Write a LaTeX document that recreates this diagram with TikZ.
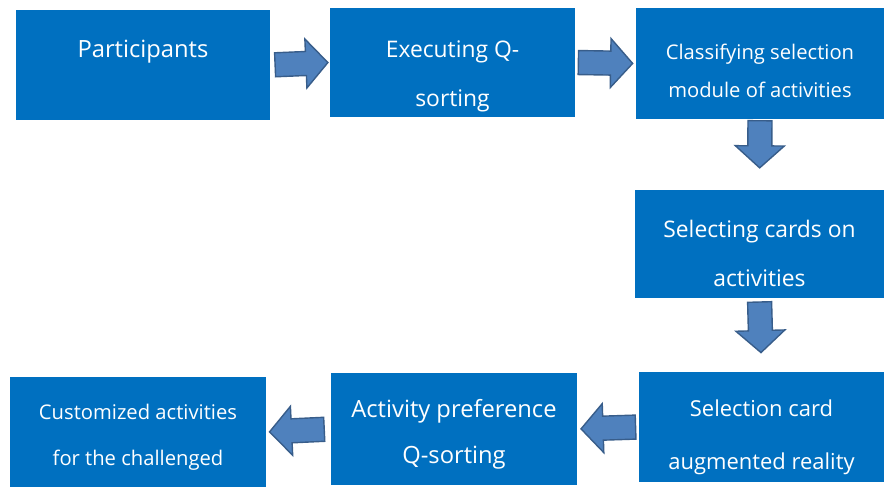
\documentclass[tikz,border=0pt]{standalone}
\usepackage{fontspec}
\setmainfont{Open Sans}
\usepackage{tikz}
\usetikzlibrary{calc,positioning}
\definecolor{BoxBlue}{RGB}{0, 112, 192}
\definecolor{ArrBlue}{RGB}{79, 129, 189}
\definecolor{ArrEdge}{RGB}{56, 93, 138}
\newcommand{\drop}[1]{\rule{0pt}{#1}}

\begin{document}
\begin{tikzpicture}[
  box/.style={fill=BoxBlue, text=white, align=center, inner sep=2pt,
              minimum height=2.2cm, minimum width=4.92cm},
  fat/.style={draw=ArrEdge, fill=ArrBlue, line width=0.8pt, line join=miter,
    to path={let \p1=(\tikztostart), \p2=(\tikztotarget), \p3=($(\p2)!0.44cm!(\p1)$) in
      ($(\p1)!0.24cm!90:(\p2)$) -- ($(\p3)!0.24cm!-90:(\p1)$) -- ($(\p3)!0.49cm!-90:(\p1)$)
      -- (\p2) -- ($(\p3)!0.49cm!90:(\p1)$) -- ($(\p3)!0.24cm!90:(\p1)$)
      -- ($(\p1)!0.24cm!-90:(\p2)$) -- cycle}}]
  \useasboundingbox (0,0) rectangle (17.7,9.76);
  % top row
  \node[box, minimum width=5.08cm, font=\fontsize{13.5}{18}\selectfont] (par) at (2.86,8.46) {Participants\\\mbox{}};
  \node[box, minimum width=4.9cm, minimum height=2.18cm, font=\fontsize{13}{28}\selectfont] (exe) at (9.05,8.51) {\drop{25pt}Executing Q-\\sorting};
  \node[box, minimum width=4.96cm, minimum height=2.22cm, font=\fontsize{11.5}{22}\selectfont] (cls) at (15.2,8.49) {\drop{17pt}Classifying selection\\module of activities};
  % right column
  \node[box, minimum width=4.98cm, minimum height=2.16cm, font=\fontsize{13}{28}\selectfont] (sel) at (15.19,4.88) {\drop{21pt}Selecting cards on\\activities};
  \node[box, minimum width=4.9cm, font=\fontsize{12.5}{30}\selectfont] (aug) at (15.23,1.22) {\drop{21pt}Selection card\\augmented reality};
  % bottom row
  \node[box, minimum height=2.24cm, font=\fontsize{13.5}{26}\selectfont] (pref) at (9.08,1.18) {\drop{16pt}Activity preference\\Q-sorting};
  \node[box, minimum width=5.12cm, font=\fontsize{11.5}{26}\selectfont] (cus) at (2.76,1.12) {\drop{14.5pt}Customized activities\\for the challenged};
  % block arrows
  \draw[fat] ($(par.east)!0.08!(exe.west)$) to ($(par.east)!0.97!(exe.west)$);
  \draw[fat] ($(exe.east)!0.05!(cls.west)$) to ($(exe.east)!0.95!(cls.west)$);
  \draw[fat] ($(cls.south)!0.02!(sel.north)$) to ($(cls.south)!0.69!(sel.north)$);
  \draw[fat] ($(sel.south)!0.05!(aug.north)$) to ($(sel.south)!0.74!(aug.north)$);
  \draw[fat] ($(aug.west)!0.05!(pref.east)$) to ($(aug.west)!0.94!(pref.east)$);
  \draw[fat] ($(pref.west)!0.1!(cus.east)$) to ($(pref.west)!0.95!(cus.east)$);
\end{tikzpicture}
\end{document}
